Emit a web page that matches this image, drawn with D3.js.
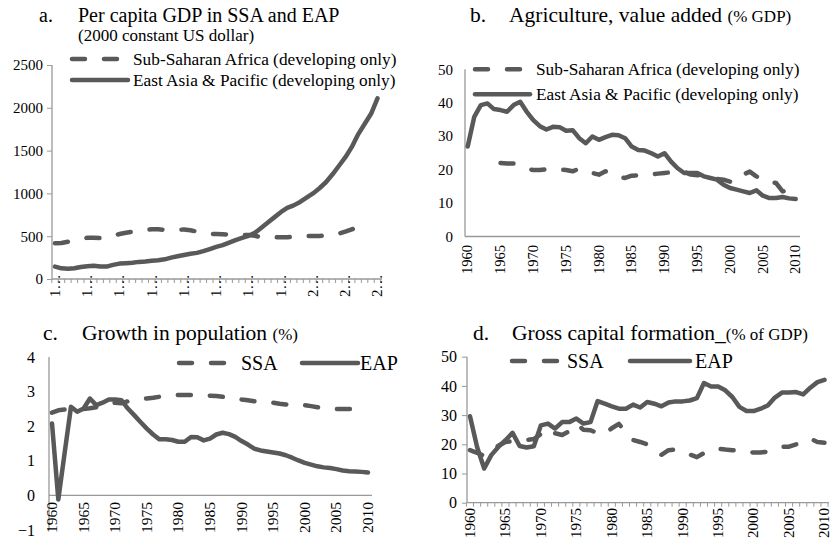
<!DOCTYPE html>
<html>
<head>
<meta charset="utf-8">
<script src="https://cdn.jsdelivr.net/npm/d3@7"></script>
<style>
	body { margin: 0; background: #fff; }
	text { font-family: "Liberation Serif", "Times New Roman", serif; fill: #000; }
</style>
</head>
<body>
<div id="chart"></div>
<script>
// Data
const years = d3.range(1960, 2011)
const yearLabels = d3.range(1960, 2011, 5)

// a. Per capita GDP (2000 constant US$)
const gdpSSA = [417, 420, 436, 455, 470, 482, 482, 478, 480, 505,
	525, 540, 553, 560, 575, 580, 580, 575, 572, 575,
	578, 570, 553, 535, 525, 525, 522, 518, 516, 515,
	514, 505, 487, 485, 487, 487, 487, 495, 502, 502,
	502, 502, 508, 514, 530, 553, 580, 605]
const gdpEAP = [145, 125, 120, 125, 140, 150, 155, 145, 145, 165,
	180, 185, 190, 200, 205, 212, 220, 230, 250, 265,
	280, 295, 305, 325, 350, 375, 395, 425, 455, 480,
	505, 540, 600, 660, 720, 780, 830, 860, 900, 950,
	1000, 1060, 1130, 1220, 1320, 1420, 1540, 1690, 1810, 1930, 2110]

// b. Agriculture, value added (% GDP)
const agrSSA = [null, null, null, null, null, 22.0, 21.8, 21.8, 21.0, 20.2,
	19.9, 19.9, 20.1, 20.2, 20.0, 19.9, 19.5, 20.3, 19.5, 19.0,
	18.5, 19.5, 19.0, 17.8, 17.5, 18.2, 18.3, 18.3, 18.6, 18.8,
	19.0, 19.2, 19.5, 19.4, 18.5, 18.3, 18.5, 17.8, 17.2, 17.0,
	16.4, 16.5, 18.5, 19.4, 18.0, 16.8, 16.4, 16.0, 13.5, 13.8]
const agrEAP = [26.9, 35.8, 39.3, 39.8, 38.1, 37.8, 37.3, 39.3, 40.3, 37.3,
	34.8, 33.0, 32.0, 32.8, 32.7, 31.6, 31.8, 29.4, 27.9, 29.9,
	28.9, 29.7, 30.4, 30.3, 29.4, 26.9, 25.9, 25.7, 24.9, 23.9,
	24.9, 22.4, 20.4, 19.0, 19.0, 19.0, 18.0, 17.5, 17.0, 15.5,
	14.5, 14.0, 13.5, 13.0, 13.8, 12.2, 11.5, 11.5, 11.8, 11.4, 11.2]

// c. Growth in population (%)
const popSSA = [2.39, 2.46, 2.48, 2.50, 2.47, 2.50, 2.52, 2.55, 2.60, 2.65,
	2.68, 2.66, 2.72, 2.75, 2.78, 2.80, 2.82, 2.85, 2.87, 2.89,
	2.90, 2.90, 2.90, 2.90, 2.89, 2.88, 2.87, 2.85, 2.82, 2.80,
	2.77, 2.75, 2.72, 2.70, 2.69, 2.68, 2.65, 2.63, 2.60, 2.60,
	2.61, 2.58, 2.55, 2.52, 2.51, 2.50, 2.50, 2.50, 2.50, 2.50]
const popEAP = [2.08, -0.12, 1.23, 2.56, 2.42, 2.51, 2.80, 2.61, 2.68, 2.77,
	2.77, 2.75, 2.51, 2.32, 2.12, 1.93, 1.76, 1.62, 1.62, 1.60,
	1.55, 1.55, 1.69, 1.68, 1.59, 1.64, 1.76, 1.81, 1.77, 1.69,
	1.57, 1.47, 1.35, 1.30, 1.27, 1.24, 1.21, 1.16, 1.09, 1.01,
	0.94, 0.89, 0.84, 0.81, 0.79, 0.76, 0.72, 0.70, 0.69, 0.68, 0.66]

// d. Gross capital formation (% of GDP)
const gcfSSA = [18.0, 17.1, 16.0, 17.5, 19.5, 20.8, 21.0, 21.4, 21.5, 21.8,
	23.5, 25.5, 23.8, 23.2, 24.5, 27.0, 25.0, 24.8, 23.8, 23.5,
	25.5, 27.0, 24.0, 21.5, 20.8, 20.0, 18.2, 16.4, 18.0, 18.2,
	17.5, 16.5, 15.6, 17.0, 18.2, 18.5, 18.2, 18.0, 17.8, 17.3,
	17.2, 17.2, 17.5, 18.2, 19.1, 19.2, 20.0, 21.2, 21.9, 20.8, 20.5]
const gcfEAP = [29.6, 19.1, 11.7, 16.3, 19.1, 21.4, 23.9, 19.4, 18.9, 19.3,
	26.5, 27.1, 25.4, 27.6, 27.6, 28.8, 27.1, 27.6, 34.8, 33.9,
	33.0, 32.2, 32.2, 33.6, 32.6, 34.5, 33.9, 33.0, 34.3, 34.7,
	34.7, 35.0, 35.8, 41.0, 39.8, 39.8, 38.5, 36.2, 32.8, 31.4,
	31.4, 32.2, 33.3, 36.0, 37.7, 37.7, 37.9, 37.1, 39.4, 41.3, 42.1]

const lineColor = '#595959'
const axisColor = '#999'
const serif = '"Liberation Serif", "Times New Roman", serif'

const svg = d3.select('#chart')
	.append('svg')
	.attr('width', 832)
	.attr('height', 545)
	.attr('font-family', serif)

function drawPanel(p) {
	const g = svg.append('g')

	const xScale = d3.scaleLinear().domain([1960, 2010]).range(p.xRange)
	const yScale = d3.scaleLinear().domain(p.yDomain).range(p.yRange)
	const step = xScale(1961) - xScale(1960)
	const y0 = yScale(p.yDomain[0] < 0 ? 0 : p.yDomain[0])

	// y axis
	const yAxis = d3.axisLeft(yScale)
		.tickValues(p.yTicks)
		.tickSize(p.yTickSize)
		.tickPadding(p.yPad)
		.tickFormat(d3.format('d'))
	const ya = g.append('g')
		.attr('transform', `translate(${p.axisLeft},0)`)
		.call(yAxis)
		.attr('font-family', serif)
	ya.select('.domain').attr('stroke', axisColor)
		.attr('stroke-width', 1.3)
		.attr('d', `M0,${p.yRange[0]}V${p.yRange[1]}`)
	ya.selectAll('.tick line').attr('stroke', axisColor)
	ya.selectAll('text').style('font-size', p.yFont + 'px').attr('fill', '#000')

	// x axis line
	g.append('line')
		.attr('x1', p.axisLeft).attr('x2', p.axisRight)
		.attr('y1', y0).attr('y2', y0)
		.attr('stroke', axisColor)
		.attr('stroke-width', 1.3)

	if (p.yearTicks) {
		g.selectAll('.yt')
			.data(years.concat([2011]))
			.join('line')
			.attr('x1', d => xScale(d) - step / 2)
			.attr('x2', d => xScale(d) - step / 2)
			.attr('y1', y0).attr('y2', y0 + 4)
			.attr('stroke', axisColor)
	}

	// x labels (rotated)
	g.selectAll('.xl')
		.data(yearLabels)
		.join('text')
		.attr('transform', d => `translate(${xScale(d)},${p.xLabelY}) rotate(-90)`)
		.attr('dy', '0.32em')
		.attr('text-anchor', p.xLabelAnchor)
		.style('font-size', p.xFont + 'px')
		.text(p.xLabelFormat)

	// lines
	const line = d3.line()
		.defined(d => d[1] !== null)
		.x(d => xScale(d[0]))
		.y(d => yScale(d[1]))

	g.append('path')
		.datum(p.ssa.map((v, i) => [years[i], v]))
		.attr('d', line)
		.attr('fill', 'none')
		.attr('stroke', lineColor)
		.attr('stroke-width', 4.5)
		.attr('stroke-linecap', 'round')
		.attr('stroke-linejoin', 'round')
		.attr('stroke-dasharray', '13,19')

	g.append('path')
		.datum(p.eap.map((v, i) => [years[i], v]))
		.attr('d', line)
		.attr('fill', 'none')
		.attr('stroke', lineColor)
		.attr('stroke-width', 4.5)
		.attr('stroke-linecap', 'round')
		.attr('stroke-linejoin', 'round')

	// title
	g.append('text')
		.attr('x', p.titleX[0]).attr('y', p.titleY)
		.style('font-size', p.titleSize + 'px')
		.text(p.letter)
	const t = g.append('text')
		.attr('x', p.titleX[1]).attr('y', p.titleY)
		.style('font-size', p.titleSize + 'px')
	t.append('tspan').text(p.title)
	if (p.titleSmall) t.append('tspan').style('font-size', '17px').text(p.titleSmall)
	if (p.subtitle) {
		g.append('text')
			.attr('x', p.titleX[1]).attr('y', p.titleY + 19)
			.style('font-size', '17px')
			.text(p.subtitle)
	}

	// legend
	p.legend.forEach(l => {
		g.append('line')
			.attr('x1', l.x1).attr('x2', l.x2)
			.attr('y1', l.y).attr('y2', l.y)
			.attr('stroke', lineColor)
			.attr('stroke-width', 4.5)
			.attr('stroke-linecap', 'round')
			.attr('stroke-dasharray', l.dashed ? '13,19' : null)
		g.append('text')
			.attr('x', l.tx).attr('y', l.y)
			.attr('dy', '0.35em')
			.style('font-size', l.size + 'px')
			.text(l.label)
	})
}

drawPanel({
	letter: 'a.', title: 'Per capita GDP in SSA and EAP', subtitle: '(2000 constant US dollar)',
	titleX: [39, 78], titleY: 22, titleSize: 20,
	xRange: [55, 377.5], axisLeft: 52, axisRight: 382,
	yDomain: [0, 2500], yRange: [279, 65], yTicks: d3.range(0, 2501, 500),
	yTickSize: 5, yPad: 4, yFont: 15,
	yearTicks: true, xLabelY: 297, xLabelAnchor: 'start', xFont: 15,
	xLabelFormat: d => String(d)[0] + '\u2026',
	ssa: gdpSSA, eap: gdpEAP,
	legend: [
		{x1: 72, x2: 120, y: 59, tx: 133, size: 17.3, dashed: true, label: 'Sub-Saharan Africa (developing only)'},
		{x1: 72, x2: 128, y: 80, tx: 133, size: 17.3, dashed: false, label: 'East Asia & Pacific (developing only)'}
	]
})

drawPanel({
	letter: 'b.', title: 'Agriculture, value added ', titleSmall: '(% GDP)',
	titleX: [470, 509], titleY: 22, titleSize: 21.5,
	xRange: [467.7, 795.7], axisLeft: 465, axisRight: 800,
	yDomain: [0, 50], yRange: [236.5, 69.3], yTicks: d3.range(0, 51, 10),
	yTickSize: 0, yPad: 12, yFont: 15,
	yearTicks: false, xLabelY: 245, xLabelAnchor: 'end', xFont: 14.5,
	xLabelFormat: d => d,
	ssa: agrSSA, eap: agrEAP,
	legend: [
		{x1: 475, x2: 526, y: 69.3, tx: 536, size: 17.3, dashed: true, label: 'Sub-Saharan Africa (developing only)'},
		{x1: 475, x2: 530, y: 94.3, tx: 536, size: 17.3, dashed: false, label: 'East Asia & Pacific (developing only)'}
	]
})

drawPanel({
	letter: 'c.', title: 'Growth in population ', titleSmall: '(%)',
	titleX: [43, 82], titleY: 340, titleSize: 21.5,
	xRange: [52, 368], axisLeft: 49, axisRight: 372,
	yDomain: [-1, 4], yRange: [530, 357], yTicks: d3.range(-1, 5, 1),
	yTickSize: 0, yPad: 14, yFont: 16,
	yearTicks: false, xLabelY: 502, xLabelAnchor: 'end', xFont: 15.5,
	xLabelFormat: d => d,
	ssa: popSSA, eap: popEAP,
	legend: [
		{x1: 179, x2: 231, y: 363, tx: 241, size: 20, dashed: true, label: 'SSA'},
		{x1: 302, x2: 358, y: 363, tx: 360, size: 20, dashed: false, label: 'EAP'}
	]
})

drawPanel({
	letter: 'd.', title: 'Gross capital formation_', titleSmall: '(% of GDP)',
	titleX: [473, 512], titleY: 340, titleSize: 21.5,
	xRange: [470, 824.5], axisLeft: 467, axisRight: 829,
	yDomain: [0, 50], yRange: [502.7, 356.7], yTicks: d3.range(0, 51, 10),
	yTickSize: 5, yPad: 5, yFont: 16,
	yearTicks: true, xLabelY: 508, xLabelAnchor: 'end', xFont: 15,
	xLabelFormat: d => d,
	ssa: gcfSSA, eap: gcfEAP,
	legend: [
		{x1: 512, x2: 558, y: 361, tx: 567, size: 20, dashed: true, label: 'SSA'},
		{x1: 630, x2: 690, y: 361, tx: 695, size: 20, dashed: false, label: 'EAP'}
	]
})
</script>
</body>
</html>
